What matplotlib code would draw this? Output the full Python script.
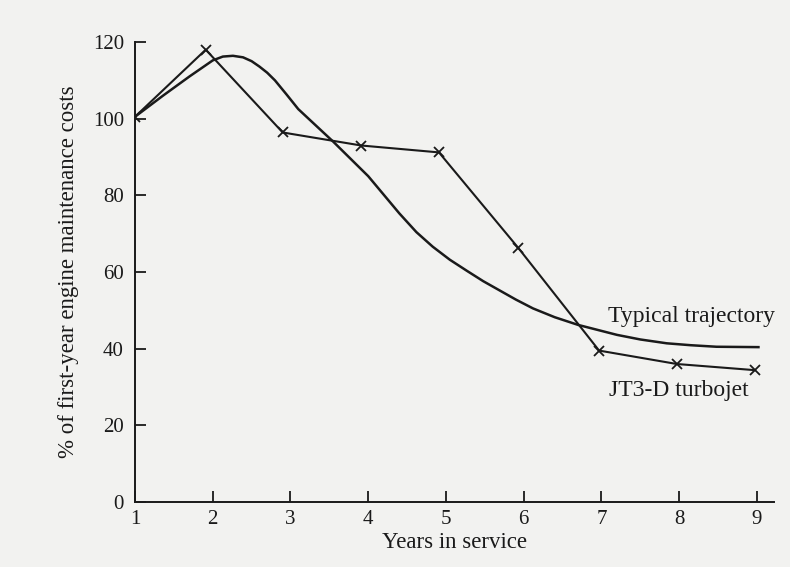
import numpy as np
import matplotlib
matplotlib.use("Agg")
import matplotlib.pyplot as plt

# JT3-D turbojet
jt_years = [1.0, 1.91, 2.90, 3.91, 4.91, 5.93, 6.97, 7.97, 8.97]
jt_cost = [100.5, 118.0, 96.4, 93.0, 91.2, 66.3, 39.5, 36.0, 34.4]

# typical trajectory, points
typ_years = [1.0, 1.36, 1.7, 2.0, 2.13, 2.26, 2.39, 2.5, 2.6, 2.7, 2.8, 2.95, 3.1, 3.55,
             4.0, 4.4, 4.62, 4.83, 5.05, 5.27, 5.48, 5.69, 5.9, 6.12, 6.4, 6.7, 7.2,
             7.5, 7.84, 8.15, 8.48, 9.02]
typ_cost = [100.5, 106.0, 111.0, 115.2, 116.2, 116.4, 116.0, 115.0, 113.6, 112.0, 110.0,
            106.3, 102.5, 94.0, 85.0, 75.3, 70.4, 66.6, 63.2, 60.3, 57.6, 55.2, 52.8,
            50.5, 48.2, 46.2, 43.6, 42.4, 41.4, 40.9, 40.5, 40.4]

xticks = [1, 2, 3, 4, 5, 6, 7, 8, 9]
yticks = [0, 20, 40, 60, 80, 100, 120]

plt.rcParams['font.family'] = ['Liberation Serif', 'DejaVu Serif']
paper = '#f2f2f0'
ink = '#1a1a1a'

fig = plt.figure(figsize=(7.9, 5.67), dpi=100, facecolor=paper)
ax = fig.add_axes([135 / 790, 65 / 567, (774 - 135) / 790, (502 - 42) / 567])
ax.set_facecolor(paper)

ax.plot(typ_years, typ_cost, color=ink, lw=1.8, solid_joinstyle='round')
ax.plot(jt_years, jt_cost, color=ink, lw=1.5, marker='x', ms=7, mew=1.3)

ax.text(7.08, 48.3, 'Typical trajectory', fontsize=17, va='center', color=ink)
ax.text(7.1, 29.2, 'JT3-D turbojet', fontsize=17, va='center', color=ink)

ax.set_xlim(1, 9.22)
ax.set_ylim(0, 120)
ax.set_xticks(xticks)
ax.set_yticks(yticks)
ax.tick_params(direction='in', length=8, width=1.3, labelsize=15, colors=ink, pad=6)
ax.tick_params(axis='y', pad=8)

for s in ['top', 'right']:
    ax.spines[s].set_visible(False)
for s in ['left', 'bottom']:
    ax.spines[s].set_linewidth(1.4)
    ax.spines[s].set_color(ink)

ax.set_xlabel('Years in service', fontsize=16.5, color=ink, labelpad=2)
ax.set_ylabel('% of first-year engine maintenance costs', fontsize=16.5, color=ink, labelpad=10)

fig.savefig('out.png', dpi=100, facecolor=paper)
